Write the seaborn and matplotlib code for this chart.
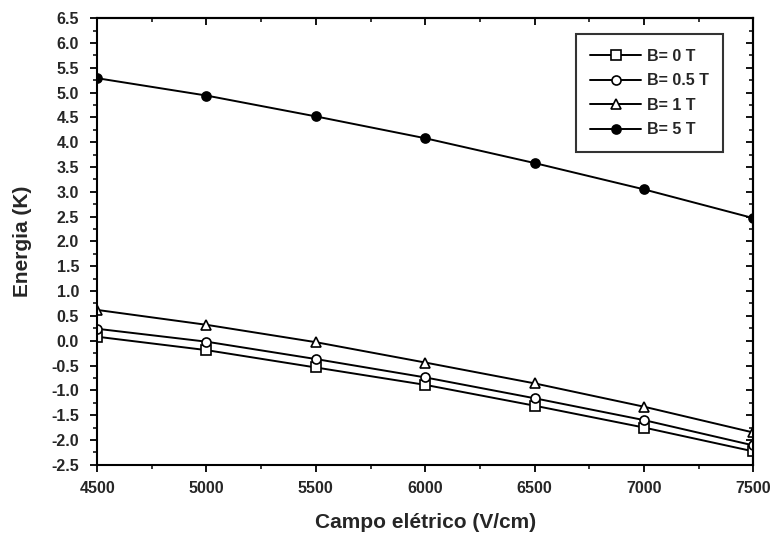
import matplotlib
matplotlib.use("Agg")
import matplotlib.pyplot as plt
from matplotlib.ticker import MultipleLocator
import seaborn as sns
import pandas as pd

# Electric field (V/cm)
campo = [4500, 5000, 5500, 6000, 6500, 7000, 7500]

# Energy (K) for each magnetic field
energia_b0 = [0.08, -0.19, -0.54, -0.89, -1.31, -1.75, -2.23]
energia_b05 = [0.24, -0.02, -0.37, -0.74, -1.16, -1.60, -2.11]
energia_b1 = [0.62, 0.32, -0.03, -0.44, -0.86, -1.33, -1.85]
energia_b5 = [5.29, 4.94, 4.52, 4.08, 3.58, 3.05, 2.47]

series_labels = ["B= 0 T", "B= 0.5 T", "B= 1 T", "B= 5 T"]

sns.set_theme(style="white")
plt.rcParams["font.family"] = ["Liberation Sans", "DejaVu Sans"]
plt.rcParams["font.weight"] = "bold"

fig = plt.figure(figsize=(7.71, 5.5), dpi=100)
ax = fig.add_axes([0.126, 0.155, 0.851, 0.812])

styles = [
    dict(marker="s", markerfacecolor="white"),
    dict(marker="o", markerfacecolor="white"),
    dict(marker="^", markerfacecolor="white"),
    dict(marker="o", markerfacecolor="black"),
]
for vals, lab, st in zip([energia_b0, energia_b05, energia_b1, energia_b5],
                         series_labels, styles):
    df = pd.DataFrame({"campo": campo, "energia": vals})
    sns.lineplot(data=df, x="campo", y="energia", ax=ax, color="black",
                 linewidth=1.4, markersize=6.5, markeredgecolor="black",
                 markeredgewidth=1.2, label=lab, **st)

ax.set_xlim(4500, 7500)
ax.set_ylim(-2.5, 6.5)
ax.xaxis.set_major_locator(MultipleLocator(500))
ax.xaxis.set_minor_locator(MultipleLocator(250))
ax.yaxis.set_major_locator(MultipleLocator(0.5))
ax.yaxis.set_minor_locator(MultipleLocator(0.25))
ax.yaxis.set_major_formatter(plt.FuncFormatter(lambda v, p: f"{v:.1f}"))

ax.tick_params(axis="both", which="major", direction="out", length=5,
               width=1.3, color="black", labelsize=11.5,
               bottom=True, left=True)
ax.tick_params(axis="y", which="major", pad=8)
ax.tick_params(axis="x", which="major", pad=7)
ax.tick_params(axis="both", which="minor", direction="out", length=3,
               width=1.1, color="black", bottom=True, left=True)
for lbl in ax.get_xticklabels() + ax.get_yticklabels():
    lbl.set_fontweight("bold")

# Mirror ticks on the top and right spines, pointing inward
for loc in ("top", "right"):
    if loc == "top":
        sec = ax.secondary_xaxis("top")
        sec.xaxis.set_major_locator(MultipleLocator(500))
        sec.xaxis.set_minor_locator(MultipleLocator(250))
    else:
        sec = ax.secondary_yaxis("right")
        sec.yaxis.set_major_locator(MultipleLocator(0.5))
        sec.yaxis.set_minor_locator(MultipleLocator(0.25))
    sec.tick_params(which="major", direction="in", length=5, width=1.3,
                    color="black", labelleft=False, labelright=False,
                    labeltop=False, labelbottom=False)
    sec.tick_params(which="minor", direction="in", length=3, width=1.1,
                    color="black")
    for sp in sec.spines.values():
        sp.set_linewidth(1.5)
        sp.set_color("black")

for sp in ax.spines.values():
    sp.set_linewidth(1.5)
    sp.set_color("black")

ax.set_xlabel("Campo elétrico (V/cm)", fontsize=15, fontweight="bold",
              labelpad=12)
ax.set_ylabel("Energia (K)", fontsize=15, fontweight="bold", labelpad=14)

leg = ax.legend(loc="upper right", bbox_to_anchor=(0.966, 0.982),
                frameon=True, fancybox=False, edgecolor="black",
                fontsize=11.5, handlelength=3.2, borderpad=0.9,
                labelspacing=0.6, handletextpad=0.35)
leg.get_frame().set_linewidth(1.5)
for t in leg.get_texts():
    t.set_fontweight("bold")

fig.savefig("out.png", dpi=100, facecolor="white")
